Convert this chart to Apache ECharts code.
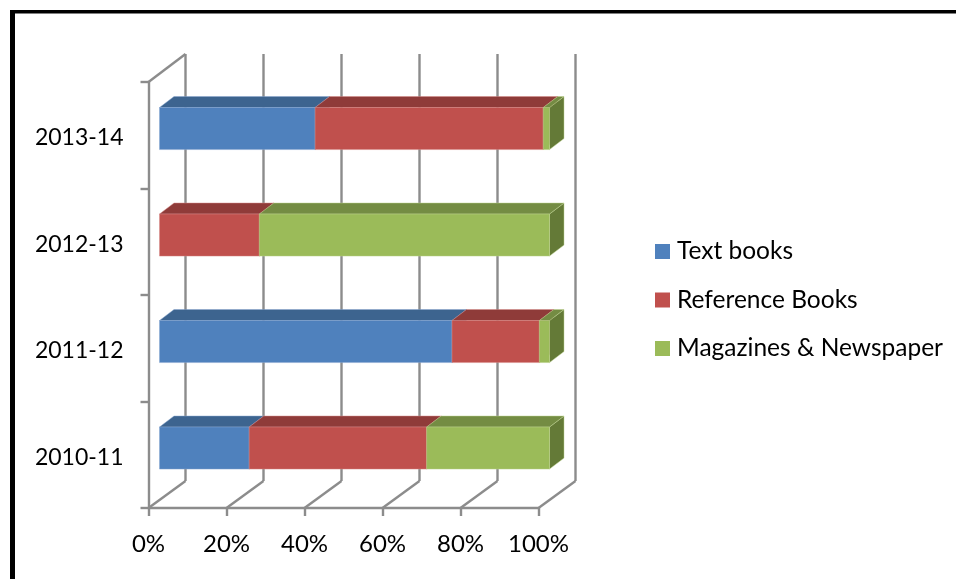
<!DOCTYPE html>
<html>
<head>
<meta charset="utf-8">
<style>html,body{margin:0;padding:0;background:#fff}#c{width:956px;height:579px}</style>
<script src="https://cdn.jsdelivr.net/npm/echarts@6/dist/echarts.min.js"></script>
</head>
<body>
<div id="c"></div>
<script>
const categories = ['2010-11', '2011-12', '2012-13', '2013-14'];
const textBooks = [23.0, 75.0, 0, 39.9];
const referenceBooks = [45.5, 22.4, 25.6, 58.5];
const magazines = [31.5, 2.6, 74.4, 1.6];
const xTicks = [0, 20, 40, 60, 80, 100];

const names = ['Text books', 'Reference Books', 'Magazines & Newspaper'];
const front = ['#4f81bd', '#c0504d', '#9bbb59'];
const topFace = ['#3d648f', '#8f3b39', '#748c43'];
const sideFace = ['#3a5f8a', '#8a3a38', '#647a37'];
const edge = ['#86a6d0', '#d88c8a', '#bdd38f'];
const FONT = 'Lato';
const GRID = '#8c8c8c';

// oblique projection (px): wall depth, bar depth, bar inset from the front plane
const WALL = [37, -27], BAR = [14.5, -11], INSET = [11, -6.7], BAR_RATIO = 0.395;

const values = [textBooks, referenceBooks, magazines];

function seriesFor(k) {
  const data = categories.map((c, i) => {
    let start = 0;
    for (let j = 0; j < k; j++) start += values[j][i];
    return [start, start + values[k][i], i];
  });
  return {
    type: 'custom', name: names[k], z: 5 + k, silent: true,
    itemStyle: { color: front[k] },
    encode: { x: [0, 1], y: 2 },
    data,
    renderItem(params, api) {
      const a = api.value(0), b = api.value(1), cat = api.value(2);
      if (b - a <= 0) return { type: 'group', children: [] };
      const p0 = api.coord([a, cat]), p1 = api.coord([b, cat]);
      const h = api.size([0, 1])[1] * BAR_RATIO;
      const x0 = p0[0] + INSET[0], x1 = p1[0] + INSET[0];
      const yT = p0[1] + INSET[1] - h / 2, yB = yT + h;
      const [dx, dy] = BAR;
      const poly = (pts, fill) => ({
        type: 'polygon', shape: { points: pts },
        style: { fill, stroke: edge[k], lineWidth: 0.6, strokeOpacity: 0.8 }
      });
      return { type: 'group', children: [
        poly([[x1, yT], [x1 + dx, yT + dy], [x1 + dx, yB + dy], [x1, yB]], sideFace[k]),
        poly([[x0, yT], [x0 + dx, yT + dy], [x1 + dx, yT + dy], [x1, yT]], topFace[k]),
        poly([[x0, yT], [x1, yT], [x1, yB], [x0, yB]], front[k])
      ]};
    }
  };
}

const wallSeries = {
  type: 'custom', name: 'walls', z: 1, silent: true,
  encode: { x: 0 },
  data: xTicks.map(v => [v]),
  renderItem(params, api) {
    const v = api.value(0);
    const band = api.size([0, 1])[1];
    const low = api.coord([v, 0]), high = api.coord([v, categories.length - 1]);
    const bottom = [low[0], low[1] + band / 2];
    const top = [high[0], high[1] - band / 2];
    const line = (a, b) => ({
      type: 'line', shape: { x1: a[0], y1: a[1], x2: b[0], y2: b[1] },
      style: { stroke: GRID, lineWidth: 2.4 }
    });
    const bb = [bottom[0] + WALL[0], bottom[1] + WALL[1]];
    const tt = [top[0] + WALL[0], top[1] + WALL[1] - 1];
    const kids = [line(bottom, bb), line(bb, tt)];
    if (params.dataIndex === 0) kids.push(line(top, tt));
    return { type: 'group', children: kids };
  }
};

const chart = echarts.init(document.getElementById('c'), null, { renderer: 'canvas' });
chart.setOption({
  animation: false,
  backgroundColor: '#fff',
  grid: { left: 148.5, right: 417.5, top: 82, bottom: 71, containLabel: false },
  xAxis: {
    type: 'value', min: 0, max: 100, interval: 20,
    axisLine: { show: true, lineStyle: { color: GRID, width: 2.4 } },
    axisTick: { show: true, length: 8, lineStyle: { color: GRID, width: 2.4 } },
    splitLine: { show: false },
    axisLabel: { formatter: '{value}%', color: '#000', fontFamily: FONT, fontSize: 24, margin: 24 }
  },
  yAxis: {
    type: 'category', data: categories,
    axisLine: { show: true, lineStyle: { color: GRID, width: 2.4 } },
    axisTick: { show: true, length: 8, lineStyle: { color: GRID, width: 2.4 } },
    splitLine: { show: false },
    axisLabel: {
      color: '#000', margin: 25,
      formatter: '{t|{value}}',
      rich: { t: { color: '#000', fontFamily: FONT, fontSize: 23, padding: [5, 0, 0, 0] } }
    }
  },
  legend: {
    data: names.map(n => ({ name: n, icon: 'rect' })),
    orient: 'vertical', left: 655, top: 239,
    itemWidth: 15, itemHeight: 15, itemGap: 23.5,
    textStyle: { color: '#000', fontFamily: FONT, fontSize: 24.5, padding: [0, 0, 0, 2] },
    selectedMode: false, padding: 0
  },
  graphic: [
    { type: 'rect', shape: { x: 10, y: 10, width: 946, height: 3.4 }, style: { fill: '#000' }, silent: true },
    { type: 'rect', shape: { x: 10, y: 10, width: 5, height: 569 }, style: { fill: '#000' }, silent: true }
  ],
  series: [wallSeries, seriesFor(0), seriesFor(1), seriesFor(2)]
});
</script>
</body>
</html>
